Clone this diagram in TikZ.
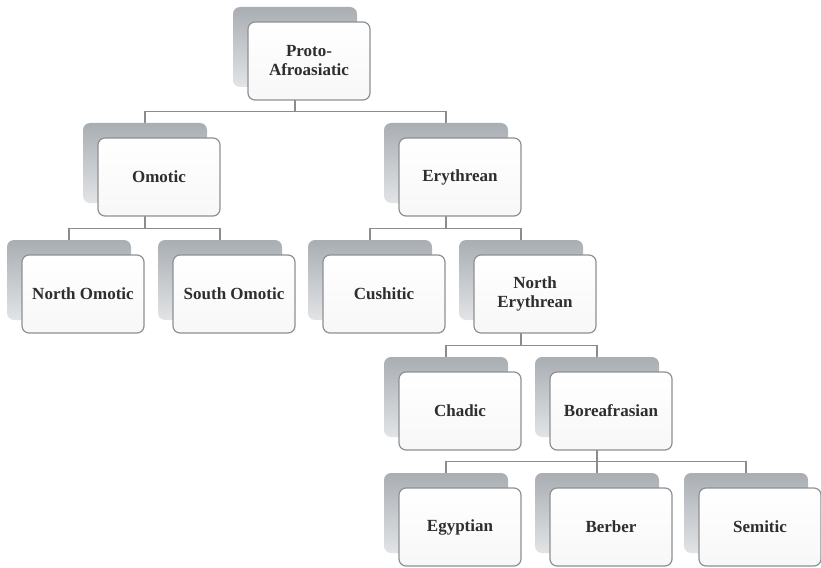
\documentclass[tikz,border=0pt]{standalone}
\usepackage{fontspec}
\setmainfont{Liberation Serif}
\usetikzlibrary{calc, backgrounds}
\definecolor{treeLine}{HTML}{8C8C8C}
\definecolor{treeBorder}{HTML}{8E9092}
\definecolor{treeShade}{HTML}{A9AEB3}
\definecolor{treeShadeLow}{HTML}{E2E4E6}

\begin{document}
\begin{tikzpicture}[
    x=1pt, y=1pt,
    every node/.style={font=\bfseries\fontsize{17}{19}\selectfont},
    % --- box styles ---
    backbox/.style={
        rounded corners=7pt, minimum width=124pt, minimum height=80pt,
        inner sep=0pt, top color=treeShade, bottom color=treeShadeLow,
    },
    frontbox/.style={
        draw=treeBorder, line width=1.2pt, rounded corners=7pt,
        top color=white, bottom color=black!3,
        minimum width=122pt, minimum height=78pt,
        inner sep=2pt, align=center, text=black!82,
    },
    % --- connector style ---
    link/.style={draw=treeLine, line width=1.5pt},
]

\useasboundingbox (0,0) rectangle (821,-567);

% ===== LEVEL 0 ==============================================================

% -- Proto-Afroasiatic --
\node[backbox] (protoS) at (295,-47) {};
\node[frontbox] (proto) at ([shift={(14,-14)}]protoS) {Proto-\\Afroasiatic};

% ===== LEVEL 1 ==============================================================

% -- Omotic --
\node[backbox] (omoticS) at (145,-163) {};
\node[frontbox] (omotic) at ([shift={(14,-14)}]omoticS) {Omotic};

% -- Erythrean --
\node[backbox] (erythS) at (446,-163) {};
\node[frontbox] (eryth) at ([shift={(14,-14)}]erythS) {Erythrean};

% ===== LEVEL 2 ==============================================================

% -- North Omotic --
\node[backbox] (nomoticS) at (69,-280) {};
\node[frontbox] (nomotic) at ([shift={(14,-14)}]nomoticS) {North Omotic};

% -- South Omotic --
\node[backbox] (somoticS) at (220,-280) {};
\node[frontbox] (somotic) at ([shift={(14,-14)}]somoticS) {South Omotic};

% -- Cushitic --
\node[backbox] (cushS) at (370,-280) {};
\node[frontbox] (cush) at ([shift={(14,-14)}]cushS) {Cushitic};

% -- North Erythrean --
\node[backbox] (nerythS) at (521,-280) {};
\node[frontbox] (neryth) at ([shift={(14,-14)}]nerythS) {North\\Erythrean};

% ===== LEVEL 3 ==============================================================

% -- Chadic --
\node[backbox] (chadS) at (446,-397) {};
\node[frontbox] (chad) at ([shift={(14,-14)}]chadS) {Chadic};

% -- Boreafrasian --
\node[backbox] (boreS) at (597,-397) {};
\node[frontbox] (bore) at ([shift={(14,-14)}]boreS) {Boreafrasian};

% ===== LEVEL 4 ==============================================================

% -- Egyptian --
\node[backbox] (egypS) at (446,-513) {};
\node[frontbox] (egyp) at ([shift={(14,-14)}]egypS) {Egyptian};

% -- Berber --
\node[backbox] (berbS) at (597,-513) {};
\node[frontbox] (berb) at ([shift={(14,-14)}]berbS) {Berber};

% -- Semitic --
\node[backbox] (semS) at (746,-513) {};
\node[frontbox] (sem) at ([shift={(14,-14)}]semS) {Semitic};

% ===== CONNECTORS ===========================================================
\begin{scope}[on background layer]
    \draw[link] (protoS) |- ($(omoticS.north)+(0,11.5)$) -- (omoticS);
    \draw[link] (protoS) |- ($(erythS.north)+(0,11.5)$)  -- (erythS);

    \draw[link] (omoticS) |- ($(nomoticS.north)+(0,11.5)$) -- (nomoticS);
    \draw[link] (omoticS) |- ($(somoticS.north)+(0,11.5)$) -- (somoticS);
    \draw[link] (erythS)  |- ($(cushS.north)+(0,11.5)$)    -- (cushS);
    \draw[link] (erythS)  |- ($(nerythS.north)+(0,11.5)$)  -- (nerythS);

    \draw[link] (nerythS) |- ($(chadS.north)+(0,11.5)$) -- (chadS);
    \draw[link] (nerythS) |- ($(boreS.north)+(0,11.5)$) -- (boreS);

    \draw[link] (boreS) |- ($(egypS.north)+(0,11.5)$) -- (egypS);
    \draw[link] (boreS) |- ($(berbS.north)+(0,11.5)$) -- (berbS);
    \draw[link] (boreS) |- ($(semS.north)+(0,11.5)$)  -- (semS);
\end{scope}

\end{tikzpicture}
\end{document}
